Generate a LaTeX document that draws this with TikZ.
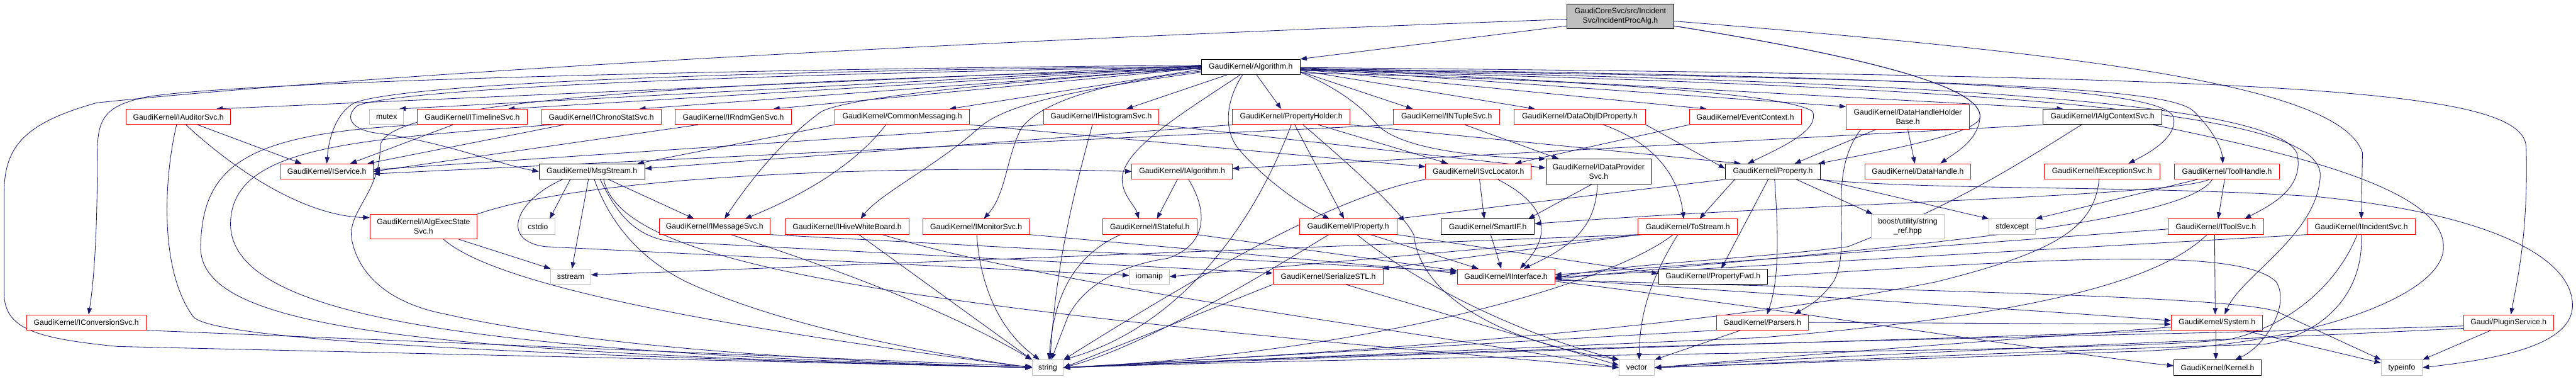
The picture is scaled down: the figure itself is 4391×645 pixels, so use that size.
\documentclass[tikz,border=0pt]{standalone}
\usepackage{fontspec}
\setmainfont{Liberation Sans}
\usetikzlibrary{arrows.meta,backgrounds}
\definecolor{edgeblue}{RGB}{25,25,112}
\definecolor{sysgray}{RGB}{191,191,191}
\tikzset{
  hdr/.style={rectangle, draw, fill=white, line width=1pt, inner xsep=2pt, inner ysep=0pt,
    minimum height=26pt, align=center, font=\fontsize{13.1}{16}\selectfont},
  redhdr/.style={hdr, draw=red},
  blackhdr/.style={hdr, draw=black},
  stdhdr/.style={hdr, draw=sysgray},
  roothdr/.style={hdr, draw=black, fill=sysgray},
  wd/.style={minimum width=#1pt},
  two/.style={minimum height=42pt},
  incl/.style={draw=edgeblue, line width=0.9pt, -{Triangle[length=11pt,width=8pt]}},
}

\begin{document}
\begin{tikzpicture}[x=1pt, y=-1pt]
  \useasboundingbox (0,0) rectangle (4391,645);

  % --- headers, row by row ---
  \node[roothdr, wd=182, two] (root) at (2762,28) {GaudiCoreSvc/src/Incident\\Svc/IncidentProcAlg.h};
  \node[blackhdr, wd=168] (alg) at (2132,114) {GaudiKernel/Algorithm.h};
  % row 1
  \node[redhdr, wd=178] (aud) at (304,199) {GaudiKernel/IAuditorSvc.h};
  \node[stdhdr, wd=58] (mtx) at (659,199) {mutex};
  \node[redhdr, wd=187] (tml) at (805,199) {GaudiKernel/ITimelineSvc.h};
  \node[redhdr, wd=204] (chr) at (1025,199) {GaudiKernel/IChronoStatSvc.h};
  \node[redhdr, wd=199] (rnd) at (1250,199) {GaudiKernel/IRndmGenSvc.h};
  \node[redhdr, wd=230] (cmm) at (1538,199) {GaudiKernel/CommonMessaging.h};
  \node[redhdr, wd=196] (his) at (1877,199) {GaudiKernel/IHistogramSvc.h};
  \node[redhdr, wd=200] (phd) at (2201,199) {GaudiKernel/PropertyHolder.h};
  \node[redhdr, wd=181] (ntp) at (2466,199) {GaudiKernel/INTupleSvc.h};
  \node[redhdr, wd=224] (doid) at (2693,199) {GaudiKernel/DataObjIDProperty.h};
  \node[redhdr, wd=191] (evc) at (2975,199) {GaudiKernel/EventContext.h};
  \node[redhdr, wd=210, two] (dhhb) at (3252,199) {GaudiKernel/DataHandleHolder\\Base.h};
  \node[blackhdr, wd=203] (acx) at (3584,199) {GaudiKernel/IAlgContextSvc.h};
  % row 2
  \node[redhdr, wd=158] (svc) at (557,292) {GaudiKernel/IService.h};
  \node[blackhdr, wd=180] (msg) at (1009,292) {GaudiKernel/MsgStream.h};
  \node[redhdr, wd=171] (ialg) at (2015,292) {GaudiKernel/IAlgorithm.h};
  \node[redhdr, wd=180] (sloc) at (2520,292) {GaudiKernel/ISvcLocator.h};
  \node[blackhdr, wd=180, two] (dps) at (2725,292) {GaudiKernel/IDataProvider\\Svc.h};
  \node[blackhdr, wd=162] (prop) at (3022,292) {GaudiKernel/Property.h};
  \node[redhdr, wd=180] (dh) at (3269,292) {GaudiKernel/DataHandle.h};
  \node[redhdr, wd=197] (exc) at (3583,292) {GaudiKernel/IExceptionSvc.h};
  \node[redhdr, wd=179] (th) at (3796,292) {GaudiKernel/ToolHandle.h};
  % row 3
  \node[redhdr, wd=183, two] (aes) at (722,386) {GaudiKernel/IAlgExecState\\Svc.h};
  \node[stdhdr, wd=57] (cst) at (917,386) {cstdio};
  \node[redhdr, wd=189] (msvc) at (1218,386) {GaudiKernel/IMessageSvc.h};
  \node[redhdr, wd=212] (hwb) at (1444,386) {GaudiKernel/IHiveWhiteBoard.h};
  \node[redhdr, wd=181] (mon) at (1664,386) {GaudiKernel/IMonitorSvc.h};
  \node[redhdr, wd=160] (stf) at (1960,386) {GaudiKernel/IStateful.h};
  \node[redhdr, wd=166] (iprp) at (2298,386) {GaudiKernel/IProperty.h};
  \node[blackhdr, wd=159] (sif) at (2536,386) {GaudiKernel/SmartIF.h};
  \node[redhdr, wd=169] (tos) at (2877,386) {GaudiKernel/ToStream.h};
  \node[stdhdr, wd=125, two] (bsr) at (3252,386) {boost/utility/string\\\_ref.hpp};
  \node[stdhdr, wd=79] (sexc) at (3430,386) {stdexcept};
  \node[redhdr, wd=163] (tsvc) at (3777,386) {GaudiKernel/IToolSvc.h};
  \node[redhdr, wd=184] (isvc) at (4025,386) {GaudiKernel/IIncidentSvc.h};
  % row 4
  \node[stdhdr, wd=68] (sst) at (973,471) {sstream};
  \node[stdhdr, wd=68] (iom) at (1959,471) {iomanip};
  \node[redhdr, wd=188] (ser) at (2264,471) {GaudiKernel/SerializeSTL.h};
  \node[redhdr, wd=166] (ifc) at (2567,471) {GaudiKernel/IInterface.h};
  \node[blackhdr, wd=186] (pfwd) at (2920,471) {GaudiKernel/PropertyFwd.h};
  % row 5
  \node[redhdr, wd=204] (cnv) at (147,549) {GaudiKernel/IConversionSvc.h};
  \node[redhdr, wd=156] (prs) at (3004,549) {GaudiKernel/Parsers.h};
  \node[redhdr, wd=156] (sys) at (3779,549) {GaudiKernel/System.h};
  \node[redhdr, wd=153] (plg) at (4276,549) {Gaudi/PluginService.h};
  % row 6
  \node[stdhdr, wd=53] (str) at (1786,626) {string};
  \node[stdhdr, wd=60] (vec) at (2790,626) {vector};
  \node[blackhdr, wd=149] (krn) at (3780,626) {GaudiKernel/Kernel.h};
  \node[stdhdr, wd=70] (tpi) at (4094,626) {typeinfo};

  \begin{scope}[on background layer]
  % --- IncidentProcAlg.h ---
  \draw[incl] (root.190) -- (alg.north east);
  \draw[incl] (root.183) .. controls (1500,75) and (600,130) .. (165,175) .. controls (40,210) and (7,250) .. (7,330) -- (7,500) .. controls (8,560) and (60,576) .. (200,590) -- (str.west);
  \draw[incl] (root.-5) .. controls (3600,95) and (3990,150) .. (4027,260) -- (isvc.north);
  \draw[incl] (root.-10) .. controls (3200,100) and (3380,150) .. (3375,200) .. controls (3372,240) and (3330,262) .. ([xshift=-52pt]dh.north east);
  \draw[incl] (root.-10) .. controls (3200,100) and (3380,150) .. (3375,200) .. controls (3370,225) and (3250,250) .. ([xshift=-4pt]prop.north east);

  % --- Algorithm.h ---
  \draw[incl] ([yshift=2pt]alg.west) -- ([xshift=-25pt]aud.north east);
  \draw[incl] ([yshift=1pt]alg.west) -- ([xshift=-8pt]mtx.north east);
  \draw[incl] (alg.west) -- ([xshift=-33pt]tml.north east);
  \draw[incl] ([yshift=-1pt]alg.west) -- ([xshift=-38pt]chr.north east);
  \draw[incl] ([yshift=-2pt]alg.west) -- ([xshift=-32pt]rnd.north east);
  \draw[incl] ([yshift=-4pt]alg.west) -- ([xshift=-35pt]cmm.north east);
  \draw[incl] ([xshift=44pt]alg.south west) -- ([xshift=43pt]his.north);
  \draw[incl] ([xshift=10pt]alg.south) -- ([xshift=-17pt]phd.north);
  \draw[incl] ([yshift=-8pt]alg.east) -- ([xshift=33pt]ntp.north west);
  \draw[incl] ([yshift=-6pt]alg.east) -- ([xshift=36pt]doid.north west);
  \draw[incl] ([yshift=-4pt]alg.east) -- ([xshift=30pt]evc.north west);
  \draw[incl] ([yshift=-2pt]alg.east) -- ([yshift=-4pt]dhhb.north west);
  \draw[incl] ([yshift=-1pt]alg.east) -- ([xshift=35pt]acx.north west);
  \draw[incl] ([yshift=-3pt]alg.east) .. controls (3300,130) and (3690,150) .. (3705,200) .. controls (3712,235) and (3660,262) .. ([xshift=-54pt]exc.north east);
  \draw[incl] ([yshift=-4pt]alg.east) .. controls (3400,135) and (3700,150) .. (3740,190) .. controls (3770,220) and (3787,250) .. ([xshift=-7pt]th.north);
  \draw[incl] ([yshift=-5pt]alg.east) .. controls (3500,140) and (3880,190) .. (3915,260) .. controls (3930,320) and (3870,350) .. ([xshift=-33pt]tsvc.north east);
  \draw[incl] ([yshift=-6pt]alg.east) .. controls (3550,150) and (3960,200) .. (3955,300) .. controls (3950,400) and (3820,470) .. ([xshift=13pt]sys.north);
  \draw[incl] ([yshift=-1pt]alg.east) .. controls (3900,130) and (4300,150) .. (4306,250) .. controls (4310,400) and (4290,480) .. ([xshift=4pt]plg.north);
  \draw[incl] ([yshift=3pt]alg.west) .. controls (1200,118) and (400,140) .. (250,165) .. controls (180,180) and (166,200) .. (166,260) .. controls (166,400) and (160,480) .. ([xshift=4pt]cnv.north);
  \draw[incl] ([yshift=1pt]alg.west) .. controls (1300,120) and (700,140) .. (604,175) .. controls (570,195) and (560,240) .. (svc.north);
  \draw[incl] (alg.west) .. controls (1300,125) and (680,150) .. (609,180) .. controls (585,200) and (600,222) .. (645,227) .. controls (760,242) and (850,280) .. (msg.west);
  \draw[incl] ([yshift=-3pt]alg.west) .. controls (1200,140) and (650,170) .. (648,250) .. controls (648,330) and (590,360) .. (600,410) .. controls (615,480) and (680,520) .. (760,535) .. controls (1000,590) and (1400,615) .. (str.west);
  \draw[incl] ([yshift=-2pt]alg.west) .. controls (1700,140) and (1450,165) .. (1400,190) .. controls (1330,240) and (1270,320) .. ([xshift=17pt]msvc.north);
  \draw[incl] ([yshift=-9pt]alg.west) .. controls (1850,150) and (1720,175) .. (1672,215) .. controls (1600,280) and (1500,330) .. ([xshift=23pt]hwb.north);
  \draw[incl] ([yshift=-7pt]alg.west) .. controls (1880,140) and (1770,175) .. (1740,220) .. controls (1715,270) and (1715,330) .. ([xshift=13pt]mon.north);
  \draw[incl] ([xshift=-18pt]alg.south) .. controls (2020,190) and (1920,250) .. (1913,300) .. controls (1910,330) and (1935,350) .. ([xshift=-19pt]stf.north);
  \draw[incl] ([xshift=-14pt]alg.south) .. controls (2090,170) and (2085,220) .. (2110,252) .. controls (2150,300) and (2210,345) .. ([xshift=-32pt]iprp.north);
  \draw[incl] ([yshift=-9pt]alg.east) .. controls (2280,150) and (2320,180) .. (2350,215) .. controls (2400,260) and (2550,268) .. (dps.north west);
  \draw[incl] ([yshift=-10pt]alg.east) .. controls (2700,135) and (3050,160) .. (3090,190) .. controls (3100,220) and (3050,245) .. ([xshift=-43pt]prop.north);

  % --- IAuditorSvc.h, ITimelineSvc.h, IChronoStatSvc.h, IRndmGenSvc.h ---
  \draw[incl] ([xshift=33pt]aud.south) -- ([xshift=-43pt]svc.north);
  \draw[incl] ([xshift=13pt]aud.south) .. controls (400,290) and (520,368) .. ([yshift=-6pt]aes.north west);
  \draw[incl] ([xshift=-3pt]aud.south) .. controls (280,300) and (270,460) .. (330,540) .. controls (380,590) and (1200,612) .. (str.west);
  \draw[incl] ([xshift=-33pt]tml.south) -- ([xshift=40pt]svc.north);
  \draw[incl] (tml.south west) .. controls (420,228) and (345,280) .. (342,420) .. controls (340,560) and (700,600) .. (str.west);
  \draw[incl] ([xshift=-64pt]chr.south) -- ([xshift=-10pt]svc.north east);
  \draw[incl] ([xshift=-85pt]chr.south) .. controls (600,238) and (395,250) .. (393,380) .. controls (391,540) and (800,600) .. (str.west);
  \draw[incl] ([xshift=-60pt]rnd.south) -- (svc.east);

  % --- CommonMessaging.h, IHistogramSvc.h ---
  \draw[incl] (cmm.south west) -- ([xshift=-13pt]msg.north east);
  \draw[incl] ([xshift=-28pt]cmm.south) .. controls (1450,290) and (1350,340) .. ([xshift=52pt]msvc.north);
  \draw[incl] (cmm.south east) -- ([yshift=8pt]sloc.west);
  \draw[incl] (his.south west) -- ([yshift=3pt]svc.east);
  \draw[incl] ([xshift=-15pt]his.south) .. controls (1830,330) and (1800,450) .. ([xshift=4pt]str.north);
  \draw[incl] (his.south east) -- ([yshift=6pt]dps.west);

  % --- PropertyHolder.h, INTupleSvc.h, DataObjIDProperty.h, EventContext.h ---
  \draw[incl] ([xshift=6pt]phd.south) -- ([xshift=-7pt]iprp.north);
  \draw[incl] ([xshift=46pt]phd.south) -- ([xshift=-52pt]sloc.north);
  \draw[incl] (phd.south east) -- ([xshift=-55pt]prop.north);
  \draw[incl] (phd.south west) -- ([yshift=5pt]msg.east);
  \draw[incl] (phd.south) .. controls (2130,400) and (2000,560) .. (str.north east);
  \draw[incl] ([xshift=20pt]phd.south) .. controls (2300,280) and (2390,360) .. (2410,400) .. controls (2420,500) and (2550,580) .. (vec.north west);
  \draw[incl] ([xshift=31pt]ntp.south) -- ([xshift=-68pt]dps.north);
  \draw[incl] (ntp.south west) -- ([yshift=-4pt]svc.east);
  \draw[incl] (doid.south east) -- ([yshift=5pt]prop.west);
  \draw[incl] ([xshift=40pt]doid.south) .. controls (2810,240) and (2860,290) .. ([xshift=-7pt]tos.north);
  \draw[incl] (evc.south west) -- ([xshift=-28pt]sloc.north east);

  % --- DataHandleHolderBase.h, IAlgContextSvc.h ---
  \draw[incl] ([xshift=-54pt]dhhb.south) -- ([xshift=37pt]prop.north);
  \draw[incl] (dhhb.south) -- ([xshift=-5pt]dh.north);
  \draw[incl] ([xshift=-80pt]dhhb.south) .. controls (3110,300) and (3160,420) .. (3125,480) .. controls (3100,515) and (3075,525) .. ([xshift=55pt]prs.north);
  \draw[incl] (acx.south west) -- ([yshift=5pt]ialg.east);
  \draw[incl] ([xshift=-36pt]acx.south) .. controls (3440,280) and (3330,350) .. (3150,420) .. controls (3000,440) and (2750,450) .. ([yshift=-3pt]ifc.east);
  \draw[incl] ([xshift=-16pt]acx.south east) .. controls (3900,260) and (4165,320) .. (4165,420) .. controls (4168,500) and (3950,585) .. (3650,598) -- (vec.east);

  % --- MsgStream.h ---
  \draw[incl] ([xshift=-37pt]msg.south) -- ([xshift=20pt]cst.north);
  \draw[incl] ([xshift=-6pt]msg.south) -- ([xshift=2pt]sst.north);
  \draw[incl] ([xshift=28pt]msg.south) -- ([xshift=-35pt]msvc.north);
  \draw[incl] ([xshift=-50pt]msg.south) .. controls (880,340) and (850,410) .. (930,420) -- ([yshift=2pt]iom.west);
  \draw[incl] ([xshift=4pt]msg.south) .. controls (1040,380) and (1090,440) .. (1170,480) .. controls (1300,540) and (1500,590) .. (str.west);
  \draw[incl] ([xshift=14pt]msg.south) .. controls (1050,360) and (1080,405) .. (1150,412) -- ([yshift=6pt]ser.west);
  \draw[incl] ([xshift=20pt]msg.south) .. controls (1060,450) and (1500,520) .. (vec.west);

  % --- IAlgorithm.h, ISvcLocator.h, IDataProviderSvc.h ---
  \draw[incl] ([xshift=-8pt]ialg.south) -- ([xshift=12pt]stf.north);
  \draw[incl] ([xshift=11pt]ialg.south) .. controls (2065,370) and (2050,420) .. (1990,440) .. controls (1920,450) and (1850,480) .. (1820,540) -- ([xshift=6pt]str.north);
  \draw[incl] ([xshift=2pt]sloc.south) -- ([xshift=-6pt]sif.north);
  \draw[incl] ([xshift=33pt]sloc.south) .. controls (2640,350) and (2645,400) .. ([xshift=24pt]ifc.north);
  \draw[incl] (sloc.south west) .. controls (2300,330) and (2120,420) .. (str.north east);
  \draw[incl] ([xshift=-11pt]dps.south) -- ([xshift=69pt]sif.north);
  \draw[incl] ([xshift=-2pt]dps.south) .. controls (2720,380) and (2690,415) .. ([xshift=30pt]ifc.north);

  % --- Property.h ---
  \draw[incl] (prop.south west) -- (iprp.north east);
  \draw[incl] ([xshift=-65pt]prop.south) -- ([xshift=20pt]tos.north);
  \draw[incl] ([xshift=-8pt]prop.south) -- ([xshift=14pt]pfwd.north);
  \draw[incl] ([xshift=3pt]prop.south) .. controls (3030,380) and (3035,470) .. ([xshift=8pt]prs.north);
  \draw[incl] ([xshift=40pt]prop.south) -- ([xshift=3pt]bsr.north west);
  \draw[incl] (prop.south east) -- (sexc.north west);
  \draw[incl] ([xshift=-5pt]prop.south east) .. controls (3300,325) and (3650,315) .. (3950,335) .. controls (4250,365) and (4385,440) .. (4385,520) .. controls (4385,590) and (4250,612) .. (tpi.east);

  % --- IExceptionSvc.h, ToolHandle.h ---
  \draw[incl] ([xshift=-5pt]exc.south) .. controls (3570,390) and (3500,430) .. (3300,480) .. controls (2900,560) and (2300,600) .. (str.east);
  \draw[incl] ([xshift=-4pt]th.south) -- ([xshift=4pt]tsvc.north);
  \draw[incl] ([xshift=-50pt]th.south) -- (sexc.north east);
  \draw[incl] ([xshift=-30pt]th.south) .. controls (3700,335) and (3100,345) .. ([yshift=5pt]sif.east);
  \draw[incl] ([xshift=-25pt]th.south) .. controls (3720,390) and (3100,430) .. ([yshift=-4pt]ifc.east);

  % --- row 3 headers ---
  \draw[incl] ([xshift=60pt]aes.south) -- (sst.north west);
  \draw[incl] ([xshift=34pt]aes.south) .. controls (850,490) and (1250,560) .. (str.west);
  \draw[incl] (aes.north east) .. controls (1000,300) and (1500,280) .. (ialg.west);
  \draw[incl] (msvc.south east) -- ([yshift=9pt]ifc.west);
  \draw[incl] ([xshift=28pt]msvc.south) .. controls (1400,450) and (1600,520) .. (str.north west);
  \draw[incl] ([xshift=20pt]hwb.south) -- (str.north west);
  \draw[incl] ([xshift=60pt]hwb.south) .. controls (1800,490) and (2400,560) .. (vec.west);
  \draw[incl] ([xshift=1pt]mon.south) .. controls (1670,480) and (1700,560) .. ([xshift=-14pt]str.north);
  \draw[incl] (mon.south east) -- ([yshift=6pt]ifc.west);
  \draw[incl] (stf.south east) -- ([yshift=10pt]ifc.west);
  \draw[incl] ([xshift=-50pt]stf.south) .. controls (1820,440) and (1795,520) .. ([xshift=2pt]str.north);
  \draw[incl] ([xshift=38pt]iprp.south) -- ([xshift=-47pt]ifc.north);
  \draw[incl] (iprp.south east) -- ([yshift=5pt]pfwd.west);
  \draw[incl] ([xshift=-33pt]iprp.south) .. controls (2150,470) and (1950,590) .. (str.east);
  \draw[incl] ([xshift=15pt]iprp.south) .. controls (2400,470) and (2560,560) .. (vec.north west);
  \draw[incl] ([xshift=5pt]sif.south) -- ([xshift=-8pt]ifc.north);
  \draw[incl] (tos.south west) -- ([yshift=3pt]sst.east);
  \draw[incl] ([xshift=8pt]tos.south west) -- (iom.east);
  \draw[incl] ([xshift=3pt]tos.south west) -- ([xshift=-2pt]ser.north east);
  \draw[incl] ([xshift=-17pt]tos.south) .. controls (2810,480) and (2795,540) .. ([xshift=4pt]vec.north);
  \draw[incl] ([xshift=-25pt]tos.south) .. controls (2750,480) and (2350,600) .. (str.east);
  \draw[incl] ([xshift=-2pt]tsvc.south) -- ([xshift=-3pt]sys.north);
  \draw[incl] ([yshift=-4pt]tsvc.west) -- ([yshift=3pt]ifc.east);
  \draw[incl] ([xshift=-15pt]tsvc.south) .. controls (3690,470) and (3500,535) .. (3000,575) -- (str.east);
  \draw[incl] (isvc.south west) -- ([yshift=-1pt]ifc.east);
  \draw[incl] ([xshift=-7pt]isvc.south) .. controls (3990,470) and (3920,550) .. (3800,578) .. controls (3600,600) and (2600,600) .. (str.east);
  \draw[incl] (isvc.south) .. controls (4030,500) and (3960,570) .. (3860,586) .. controls (3400,600) and (3000,620) .. (vec.east);

  % --- row 4 and 5 headers ---
  \draw[incl] ([xshift=30pt]ser.south) -- ([yshift=4pt]vec.west);
  \draw[incl] (ser.south west) -- (str.east);
  \draw[incl] ([yshift=-4pt]ifc.east) .. controls (3000,500) and (3500,530) .. ([yshift=3pt]sys.west);
  \draw[incl] ([yshift=-8pt]ifc.east) .. controls (3000,520) and (3500,600) .. ([yshift=3pt]krn.west);
  \draw[incl] ([yshift=-6pt]ifc.east) .. controls (3300,495) and (3800,505) .. (3880,530) -- (tpi.north west);
  \draw[incl] (pfwd.east) .. controls (3500,440) and (3820,420) .. (3880,480) .. controls (3905,520) and (3860,590) .. ([xshift=30pt]krn.north);
  \draw[incl] (cnv.south east) -- ([yshift=2pt]str.west);
  \draw[incl] ([xshift=-37pt]prs.south) -- (vec.north east);
  \draw[incl] (prs.east) -- ([yshift=-3pt]sys.west);
  \draw[incl] (prs.south west) -- (str.east);
  \draw[incl] ([xshift=-2pt]sys.south) -- ([xshift=-3pt]krn.north);
  \draw[incl] ([xshift=45pt]sys.south) -- ([yshift=8pt]tpi.west);
  \draw[incl] (sys.south west) .. controls (3400,575) and (2600,595) .. (str.east);
  \draw[incl] ([yshift=-8pt]sys.west) .. controls (3400,580) and (3000,610) .. (vec.east);
  \draw[incl] ([xshift=-30pt]plg.south) -- (tpi.north east);
  \draw[incl] ([yshift=-6pt]plg.west) .. controls (3900,566) and (2700,585) .. (str.east);
  \draw[incl] ([yshift=-10pt]plg.west) .. controls (3900,575) and (3100,605) .. (vec.east);
  \end{scope}
\end{tikzpicture}
\end{document}
